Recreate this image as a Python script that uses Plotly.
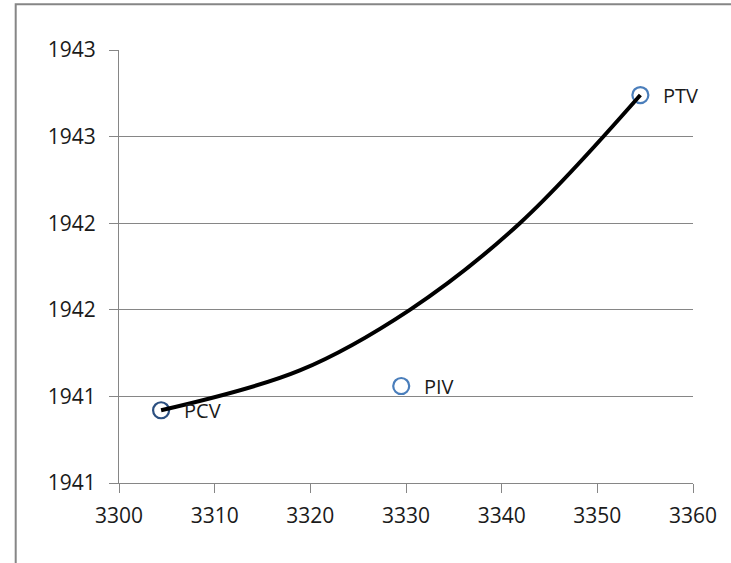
import plotly.graph_objects as go

# Named points
point_names = ["PCV", "PIV", "PTV"]
point_x = [3304.4, 3329.5, 3354.5]
point_y = [1940.92, 1941.06, 1942.74]
point_colors = ["#2b4f80", "#4a7ebb", "#4a7ebb"]

# Smooth trend curve from PCV to PTV
curve_x = [3304.4, 3318.9, 3330.4, 3341.9, 3354.5]
curve_y = [1940.92, 1941.15, 1941.50, 1942.00, 1942.74]

# Axis ticks
x_tick_vals = [3300, 3310, 3320, 3330, 3340, 3350, 3360]
y_tick_vals = [1940.5, 1941.0, 1941.5, 1942.0, 1942.5, 1943.0]
y_tick_text = ["1941", "1941", "1942", "1942", "1943", "1943"]

FONT = "Open Sans"
FONT_SIZE = 21
TEXT_COLOR = "#1a1a1a"
AXIS_GRAY = "#868686"

fig = go.Figure()

fig.add_trace(go.Scatter(
    x=point_x, y=point_y, mode="markers",
    marker=dict(symbol="circle-open", size=16,
                color=point_colors, line=dict(width=2.2, color=point_colors)),
    showlegend=False, hoverinfo="skip",
))

fig.add_trace(go.Scatter(
    x=curve_x, y=curve_y, mode="lines",
    line=dict(color="black", width=4, shape="spline", smoothing=1.0),
    showlegend=False, hoverinfo="skip",
))

# Point labels placed to the right of each marker
for name, x, y in zip(point_names, point_x, point_y):
    fig.add_annotation(x=x, y=y, text=name, showarrow=False,
                       xanchor="left", yanchor="middle", xshift=21, yshift=0,
                       font=dict(family=FONT, size=FONT_SIZE - 1, color=TEXT_COLOR))

# Outer chart frame
px_w = 574.0
px_h = 433.5
fig.add_shape(type="rect", xref="paper", yref="paper",
              x0=(15.7 - 119) / px_w, x1=2.0,
              y0=-1.0, y1=(483.5 - 4.3) / px_h,
              line=dict(color=AXIS_GRAY, width=2), layer="below")

tick_font = dict(family=FONT, size=FONT_SIZE, color=TEXT_COLOR)

fig.update_layout(
    width=731, height=563,
    margin=dict(l=119, r=38, t=50, b=79.5),
    paper_bgcolor="white", plot_bgcolor="white",
    font=dict(family=FONT, size=FONT_SIZE, color=TEXT_COLOR),
    xaxis=dict(range=[3300, 3360], tickvals=x_tick_vals,
               ticks="outside", ticklen=9, tickcolor=AXIS_GRAY, tickwidth=1,
               showline=True, linecolor=AXIS_GRAY, linewidth=1,
               showgrid=False, zeroline=False, ticklabelstandoff=5,
               tickfont=tick_font),
    yaxis=dict(range=[1940.5, 1943.0], tickvals=y_tick_vals, ticktext=y_tick_text,
               ticks="outside", ticklen=9, tickcolor=AXIS_GRAY, tickwidth=1,
               showline=True, linecolor=AXIS_GRAY, linewidth=1,
               showgrid=True, gridcolor=AXIS_GRAY, gridwidth=1, zeroline=False,
               ticklabelstandoff=9, tickfont=tick_font),
)

fig.write_html("out.html")
